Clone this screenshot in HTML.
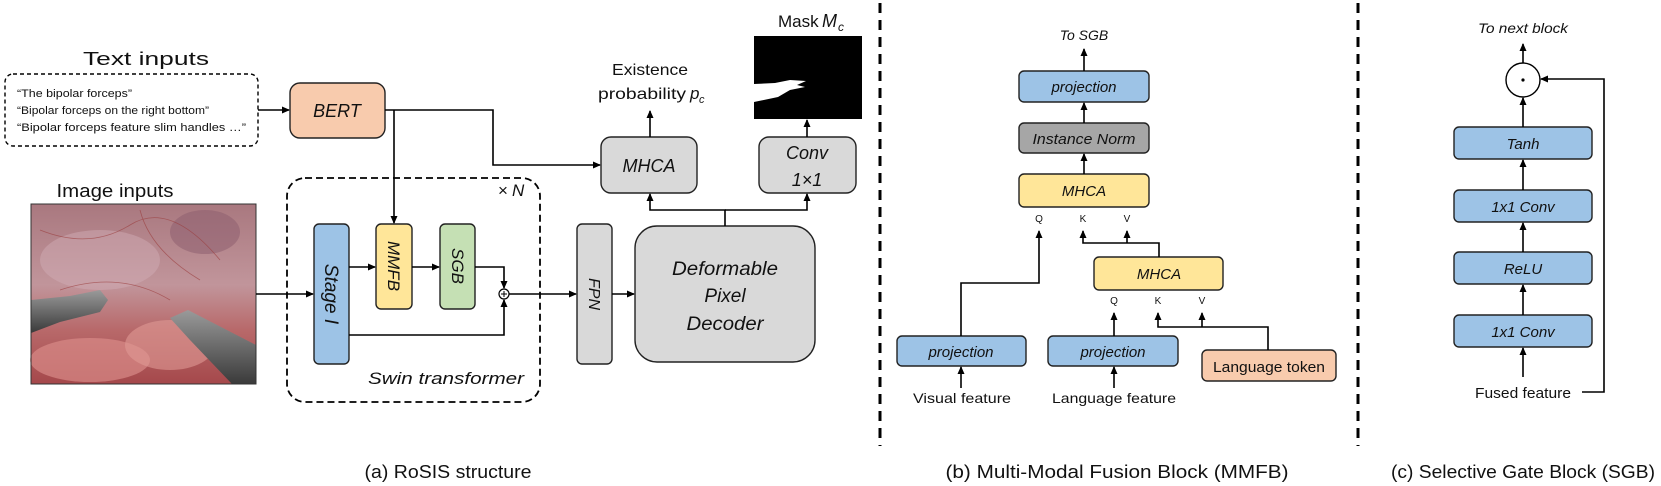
<!DOCTYPE html>
<html><head><meta charset="utf-8"><style>
html,body{margin:0;padding:0;background:#fff}
svg{display:block}
text{font-family:"Liberation Sans",sans-serif;fill:#111}
.it{font-style:italic}
</style></head><body>
<svg width="1661" height="486" viewBox="0 0 1661 486" xmlns="http://www.w3.org/2000/svg">
<defs>
<marker id="a" markerWidth="8" markerHeight="8" refX="7" refY="4" orient="auto" markerUnits="userSpaceOnUse">
<path d="M0,0.5 L8,4 L0,7.5 z" fill="#000"/></marker>
<linearGradient id="tis" x1="0" y1="0" x2="0" y2="1">
<stop offset="0" stop-color="#a9787f"/><stop offset="0.45" stop-color="#c1959b"/><stop offset="0.7" stop-color="#b8696a"/><stop offset="1" stop-color="#a5484b"/></linearGradient>
<linearGradient id="tool" x1="0" y1="0" x2="0" y2="1"><stop offset="0" stop-color="#9a9a9a"/><stop offset="1" stop-color="#3a3a3a"/></linearGradient>
</defs>
<g stroke="#000" stroke-width="1.6" fill="none">
<rect x="5" y="74" width="253" height="72" rx="8" stroke-dasharray="4,3" stroke-width="1.4"/>
<rect x="287" y="178" width="253" height="224" rx="18" stroke-dasharray="7,4" stroke-width="1.8"/>
<line x1="880" y1="3" x2="880" y2="446" stroke-width="3" stroke-dasharray="10,7"/>
<line x1="1358" y1="3" x2="1358" y2="446" stroke-width="3" stroke-dasharray="10,7"/>
</g>
<!-- photo -->
<rect x="31" y="204" width="225" height="180" fill="url(#tis)"/>
<ellipse cx="205" cy="232" rx="35" ry="22" fill="#8e5f70" opacity="0.55"/>
<ellipse cx="100" cy="260" rx="60" ry="30" fill="#d2b0b8" opacity="0.45"/>
<ellipse cx="90" cy="360" rx="60" ry="22" fill="#d88a88" opacity="0.7"/>
<ellipse cx="170" cy="345" rx="45" ry="25" fill="#e09a95" opacity="0.6"/>
<g stroke="#9a3a3a" stroke-width="0.8" fill="none" opacity="0.6">
<path d="M40,230 Q90,250 130,225 T220,260"/><path d="M60,290 Q120,270 170,300"/><path d="M140,210 Q150,250 200,280"/>
</g>
<path d="M31,300 L70,296 L100,290 L108,300 L100,312 L60,322 L31,333 z" fill="url(#tool)"/>
<path d="M170,318 L188,310 L256,345 L256,384 L232,384 L190,340 z" fill="url(#tool)"/>
<rect x="31" y="204" width="225" height="180" fill="none" stroke="#333" stroke-width="1"/>
<!-- mask -->
<rect x="754" y="36" width="108" height="83" fill="#000"/>
<path d="M754,84 L775,83 L790,80 L806,81 L797,85 L805,87 L790,90 L778,97 L754,102 z" fill="#fff"/>
<g stroke="#222" stroke-width="1.4">
<rect x="290" y="83" width="95" height="55" rx="10" fill="#f8cbad"/>
<rect x="601" y="137" width="96" height="56" rx="10" fill="#d9d9d9"/>
<rect x="759" y="137" width="97" height="56" rx="10" fill="#d9d9d9"/>
<rect x="314" y="224" width="35" height="140" rx="5" fill="#9dc3e6"/>
<rect x="376" y="224" width="36" height="85" rx="5" fill="#ffe699"/>
<rect x="440" y="224" width="35" height="85" rx="5" fill="#c5e0b4"/>
<rect x="577" y="224" width="35" height="140" rx="5" fill="#d9d9d9"/>
<rect x="635" y="226" width="180" height="136" rx="22" fill="#d9d9d9"/>
<rect x="1019" y="71" width="130" height="31" rx="5" fill="#9dc3e6"/>
<rect x="1019" y="123" width="130" height="30" rx="5" fill="#a6a6a6"/>
<rect x="1019" y="174" width="130" height="33" rx="5" fill="#ffe699"/>
<rect x="1094" y="257" width="129" height="33" rx="5" fill="#ffe699"/>
<rect x="897" y="336" width="129" height="30" rx="5" fill="#9dc3e6"/>
<rect x="1048" y="336" width="130" height="30" rx="5" fill="#9dc3e6"/>
<rect x="1202" y="350" width="134" height="31" rx="5" fill="#f8cbad"/>
<rect x="1454" y="127" width="138" height="32" rx="5" fill="#9dc3e6"/>
<rect x="1454" y="190" width="138" height="32" rx="5" fill="#9dc3e6"/>
<rect x="1454" y="252" width="138" height="32" rx="5" fill="#9dc3e6"/>
<rect x="1454" y="315" width="138" height="32" rx="5" fill="#9dc3e6"/>
</g>
<circle cx="504" cy="294" r="5" fill="#fff" stroke="#000" stroke-width="1.2"/>
<path d="M501,294 h6 M504,291 v6" stroke="#000" stroke-width="1"/>
<circle cx="1523" cy="80" r="17" fill="#fff" stroke="#000" stroke-width="1.4"/>
<circle cx="1523" cy="80" r="1.6" fill="#000"/>
<g stroke="#000" stroke-width="1.6" fill="none">
<path d="M258,110 H289" marker-end="url(#a)"/>
<path d="M385,110 H493 V165 H600" marker-end="url(#a)"/>
<path d="M394,110 V223" marker-end="url(#a)"/>
<path d="M650,137 V111" marker-end="url(#a)"/>
<path d="M807,137 V120" marker-end="url(#a)"/>
<path d="M725,226 V210 H650 V194" marker-end="url(#a)"/>
<path d="M725,210 H807 V194" marker-end="url(#a)"/>
<path d="M256,294 H313" marker-end="url(#a)"/>
<path d="M349,267 H375" marker-end="url(#a)"/>
<path d="M412,267 H439" marker-end="url(#a)"/>
<path d="M475,267 H504 V288" marker-end="url(#a)"/>
<path d="M349,335 H504 V300" marker-end="url(#a)"/>
<path d="M509,294 H576" marker-end="url(#a)"/>
<path d="M612,294 H634" marker-end="url(#a)"/>
<path d="M1084,71 V49" marker-end="url(#a)"/>
<path d="M1084,123 V103" marker-end="url(#a)"/>
<path d="M1084,174 V154" marker-end="url(#a)"/>
<path d="M961,336 V283 H1039 V231" marker-end="url(#a)"/>
<path d="M1159,257 V243 H1083 V231" marker-end="url(#a)"/>
<path d="M1127,243 V231" marker-end="url(#a)"/>
<path d="M1114,336 V313" marker-end="url(#a)"/>
<path d="M1268,350 V327 H1158 V313" marker-end="url(#a)"/>
<path d="M1202,327 V313" marker-end="url(#a)"/>
<path d="M961,388 V367" marker-end="url(#a)"/>
<path d="M1114,388 V367" marker-end="url(#a)"/>
<path d="M1523,63 V44" marker-end="url(#a)"/>
<path d="M1523,127 V98" marker-end="url(#a)"/>
<path d="M1523,190 V160" marker-end="url(#a)"/>
<path d="M1523,252 V223" marker-end="url(#a)"/>
<path d="M1523,315 V285" marker-end="url(#a)"/>
<path d="M1523,377 V348" marker-end="url(#a)"/>
<path d="M1582,392 H1604 V79 H1541" marker-end="url(#a)"/>
</g>
<text x="146" y="65" font-size="18" text-anchor="middle" textLength="126" lengthAdjust="spacingAndGlyphs">Text inputs</text>
<text x="17" y="97" font-size="11" textLength="115" lengthAdjust="spacingAndGlyphs">“The bipolar forceps”</text>
<text x="17" y="114" font-size="11" textLength="192" lengthAdjust="spacingAndGlyphs">“Bipolar forceps on the right bottom”</text>
<text x="17" y="131" font-size="11" textLength="229" lengthAdjust="spacingAndGlyphs">“Bipolar forceps feature slim handles …”</text>
<text x="115" y="197" font-size="18" text-anchor="middle" textLength="117" lengthAdjust="spacingAndGlyphs">Image inputs</text>
<text x="337" y="117" font-size="18" class="it" text-anchor="middle">BERT</text>
<text x="649" y="172" font-size="18" class="it" text-anchor="middle">MHCA</text>
<text x="807" y="159" font-size="18" class="it" text-anchor="middle">Conv</text>
<text x="807" y="186" font-size="18" class="it" text-anchor="middle">1×1</text>
<text x="650" y="75" font-size="16" text-anchor="middle" textLength="76" lengthAdjust="spacingAndGlyphs">Existence</text>
<text x="642" y="99" font-size="16" text-anchor="middle" textLength="88" lengthAdjust="spacingAndGlyphs">probability</text>
<text x="690" y="99" font-size="17" font-family="Liberation Serif" font-style="italic">p</text>
<text x="699" y="103" font-size="11" font-family="Liberation Serif" font-style="italic">c</text>
<text x="778" y="27" font-size="17">Mask</text>
<text x="822" y="27" font-size="18" font-family="Liberation Serif" font-style="italic">M</text>
<text x="838" y="31" font-size="12" font-family="Liberation Serif" font-style="italic">c</text>
<text x="498" y="196" font-size="17">×</text>
<text x="512" y="196" font-size="17" font-family="Liberation Serif" font-style="italic">N</text>
<text x="446" y="384" font-size="17" class="it" text-anchor="middle" textLength="156" lengthAdjust="spacingAndGlyphs">Swin transformer</text>
<text transform="translate(325,294) rotate(90)" font-size="19" class="it" text-anchor="middle">Stage I</text>
<text transform="translate(388,266) rotate(90)" font-size="17" class="it" text-anchor="middle">MMFB</text>
<text transform="translate(452,266) rotate(90)" font-size="17" class="it" text-anchor="middle">SGB</text>
<text transform="translate(589,294) rotate(90)" font-size="16" class="it" text-anchor="middle">FPN</text>
<text x="725" y="275" font-size="19" class="it" text-anchor="middle" textLength="106" lengthAdjust="spacingAndGlyphs">Deformable</text>
<text x="725" y="302" font-size="19" class="it" text-anchor="middle">Pixel</text>
<text x="725" y="330" font-size="19" class="it" text-anchor="middle" textLength="77" lengthAdjust="spacingAndGlyphs">Decoder</text>
<text x="1084" y="40" font-size="14" class="it" text-anchor="middle">To SGB</text>
<text x="1084" y="92" font-size="15" class="it" text-anchor="middle">projection</text>
<text x="1084" y="144" font-size="15" class="it" text-anchor="middle" textLength="103" lengthAdjust="spacingAndGlyphs">Instance Norm</text>
<text x="1084" y="196" font-size="15" class="it" text-anchor="middle">MHCA</text>
<text x="1159" y="279" font-size="15" class="it" text-anchor="middle">MHCA</text>
<text x="961" y="357" font-size="15" class="it" text-anchor="middle">projection</text>
<text x="1113" y="357" font-size="15" class="it" text-anchor="middle">projection</text>
<text x="1269" y="372" font-size="15" text-anchor="middle" textLength="112" lengthAdjust="spacingAndGlyphs">Language token</text>
<g font-size="10" text-anchor="middle">
<text x="1039" y="222">Q</text><text x="1083" y="222">K</text><text x="1127" y="222">V</text>
<text x="1114" y="304">Q</text><text x="1158" y="304">K</text><text x="1202" y="304">V</text>
</g>
<text x="962" y="403" font-size="14" text-anchor="middle" textLength="98" lengthAdjust="spacingAndGlyphs">Visual feature</text>
<text x="1114" y="403" font-size="14" text-anchor="middle" textLength="124" lengthAdjust="spacingAndGlyphs">Language feature</text>
<text x="1523" y="33" font-size="14" class="it" text-anchor="middle" textLength="90" lengthAdjust="spacingAndGlyphs">To next block</text>
<text x="1523" y="149" font-size="15" class="it" text-anchor="middle">Tanh</text>
<text x="1523" y="212" font-size="15" class="it" text-anchor="middle">1x1 Conv</text>
<text x="1523" y="274" font-size="15" class="it" text-anchor="middle">ReLU</text>
<text x="1523" y="337" font-size="15" class="it" text-anchor="middle">1x1 Conv</text>
<text x="1523" y="398" font-size="15" text-anchor="middle" textLength="96" lengthAdjust="spacingAndGlyphs">Fused feature</text>
<text x="448" y="478" font-size="18" text-anchor="middle" textLength="167" lengthAdjust="spacingAndGlyphs">(a) RoSIS structure</text>
<text x="1117" y="478" font-size="18" text-anchor="middle" textLength="343" lengthAdjust="spacingAndGlyphs">(b) Multi-Modal Fusion Block (MMFB)</text>
<text x="1523" y="478" font-size="18" text-anchor="middle" textLength="264" lengthAdjust="spacingAndGlyphs">(c) Selective Gate Block (SGB)</text>
</svg>
</body></html>
